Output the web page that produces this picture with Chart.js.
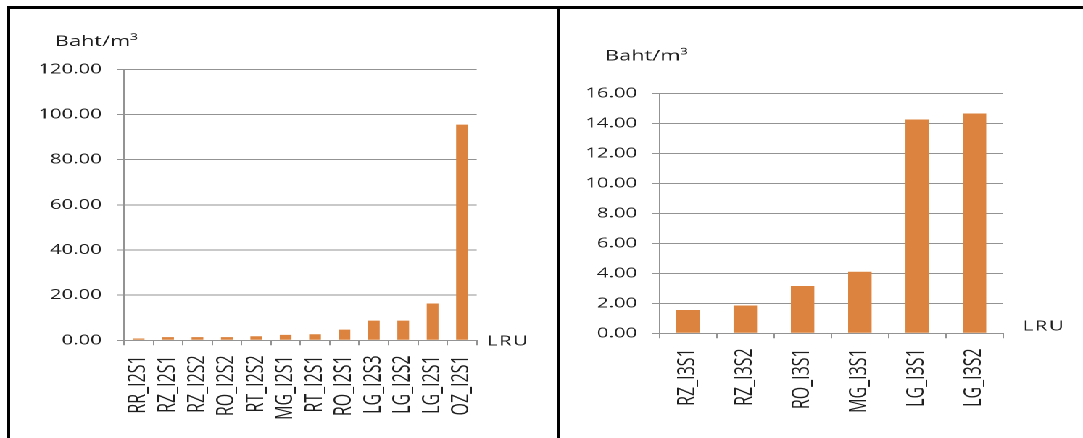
<!DOCTYPE html>
<html>
<head>
<meta charset="utf-8">
<script src="https://cdn.jsdelivr.net/npm/chart.js@4.4.1/dist/chart.umd.min.js"></script>
<style>
  html, body { margin: 0; padding: 0; background: #fff; }
  body { width: 1083px; height: 438px; position: relative; overflow: hidden; }
  /* both charts are drawn on a narrower stage and widened to the page width */
  #stage { position: absolute; left: 0; top: 0; width: 747px; height: 438px;
           transform-origin: 0 0; transform: scaleX(1.4498); }
  #stage canvas { position: absolute; top: 0; }
  .rule { position: absolute; background: #000; }
</style>
</head>
<body>
<div id="stage">
  <canvas id="costI2" width="384" height="438" style="left:0"></canvas>
  <canvas id="costI3" width="363" height="438" style="left:384px"></canvas>
</div>
<div class="rule" style="left:7px;top:6px;width:1076px;height:3px"></div>
<div class="rule" style="left:7px;top:6px;width:3px;height:432px"></div>
<div class="rule" style="left:557px;top:6px;width:3px;height:432px"></div>

<script>
// Cost per cubic metre by land resource unit (LRU)
const lruI2 = ['RR_I2S1', 'RZ_I2S1', 'RZ_I2S2', 'RO_I2S2', 'RT_I2S2', 'MG_I2S1',
               'RT_I2S1', 'RO_I2S1', 'LG_I2S3', 'LG_I2S2', 'LG_I2S1', 'OZ_I2S1'];
const costI2 = [0.8, 1.4, 1.4, 1.4, 1.8, 2.4, 2.7, 4.7, 8.7, 8.7, 16.3, 95.5];
const ticksI2 = [0, 20, 40, 60, 80, 100, 120];

const lruI3 = ['RZ_I3S1', 'RZ_I3S2', 'RO_I3S1', 'MG_I3S1', 'LG_I3S1', 'LG_I3S2'];
const costI3 = [1.55, 1.85, 3.15, 4.1, 14.25, 14.65];
const ticksI3 = [0, 2, 4, 6, 8, 10, 12, 14, 16];

const unitLabel = 'Baht/m³';
const categoryLabel = 'LRU';

const BAR = '#dc843f';
const GRID = '#939393';
const INK = '#1e1e1e';
const FONT = "'Open Sans', 'DejaVu Sans', sans-serif";

// unit caption above the value axis and category caption after the category axis
const axisCaptions = {
  id: 'axisCaptions',
  afterDraw(chart, args, o) {
    const { ctx, chartArea: a } = chart;
    ctx.save();
    ctx.fillStyle = INK;
    ctx.textAlign = 'left';
    ctx.textBaseline = 'alphabetic';
    ctx.font = '15px ' + FONT;
    ctx.fillText(o.unit, a.left + o.unitDx, a.top + o.unitDy);
    ctx.font = '14px ' + FONT;
    if ('letterSpacing' in ctx) ctx.letterSpacing = '1px';
    ctx.fillText(o.category, a.right + o.catDx, a.bottom + o.catDy);
    ctx.restore();
  }
};

function drawCostChart(id, labels, values, ticks, lay) {
  return new Chart(document.getElementById(id), {
    type: 'bar',
    data: {
      labels: labels,
      datasets: [{
        data: values,
        backgroundColor: BAR,
        borderWidth: 0,
        barPercentage: lay.barPct,
        categoryPercentage: 1
      }]
    },
    options: {
      responsive: false,
      animation: false,
      devicePixelRatio: 2,
      layout: { padding: { left: 0, top: lay.padTop, right: lay.padRight, bottom: 0 } },
      plugins: {
        legend: { display: false },
        tooltip: { enabled: false },
        axisCaptions: {
          unit: unitLabel, category: categoryLabel,
          unitDx: lay.unitDx, unitDy: lay.unitDy,
          catDx: lay.catDx, catDy: lay.catDy
        }
      },
      scales: {
        x: {
          grid: { offset: true, drawOnChartArea: false, drawTicks: true, tickLength: 5, color: GRID },
          border: { display: true, color: GRID, width: 1 },
          ticks: {
            autoSkip: false, minRotation: 90, maxRotation: 90, padding: 10,
            color: INK, font: { family: FONT, size: 16 }
          },
          afterFit: s => { s.height = lay.xHeight; }
        },
        y: {
          min: ticks[0],
          max: ticks[ticks.length - 1],
          afterBuildTicks: s => { s.ticks = ticks.map(v => ({ value: v })); },
          grid: { color: GRID, tickLength: 5, drawTicks: true },
          border: { display: true, color: GRID, width: 1 },
          ticks: {
            padding: 10.3, color: INK, font: { family: FONT, size: 14 },
            callback: v => Number(v).toFixed(2)
          },
          afterFit: s => { s.width = lay.yWidth; }
        }
      }
    },
    plugins: [axisCaptions]
  });
}

drawCostChart('costI2', lruI2, costI2, ticksI2, {
  yWidth: 85.5, xHeight: 97.7, padTop: 69.3, padRight: 55.2, barPct: 0.4,
  unitDx: -47.6, unitDy: -23.3, catDx: 7.1, catDy: 5.4
});

drawCostChart('costI3', lruI3, costI3, ticksI3, {
  yWidth: 70.8, xHeight: 104.7, padTop: 93.3, padRight: 55.1, barPct: 0.41,
  unitDx: -37.5, unitDy: -32.8, catDx: 13.6, catDy: -2.6
});
</script>
</body>
</html>
